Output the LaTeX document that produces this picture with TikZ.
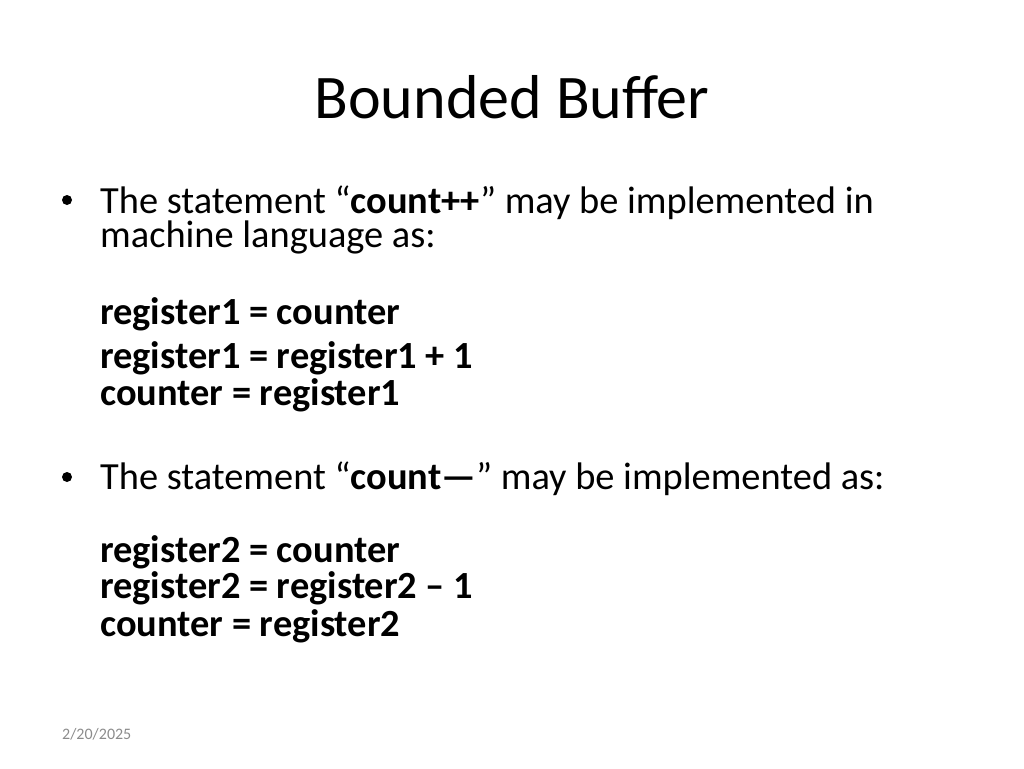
\documentclass[tikz,border=0pt]{standalone}
\usepackage{fontspec}
\setmainfont{Carlito}
\usepackage{xcolor}
\usepackage{tikz}
\definecolor{ink}{HTML}{000000}
\definecolor{muted}{HTML}{8B8B8B}
\tikzset{
  head/.style={anchor=base, inner sep=0pt, text=ink, font=\fontsize{62}{62}\selectfont},
  body/.style={anchor=base west, inner sep=0pt, text=ink, font=\fontsize{38.4}{38.4}\selectfont},
  code/.style={anchor=base west, inner sep=0pt, text=ink, font=\fontsize{38.4}{38.4}\selectfont\bfseries},
  dot/.style={circle, fill=ink, inner sep=0pt, minimum size=10pt},
  foot/.style={anchor=base west, inner sep=0pt, text=muted, font=\fontsize{16}{16}\selectfont},
}
\begin{document}
\begin{tikzpicture}[x=1pt,y=-1pt]
  \useasboundingbox (0,0) rectangle (1024,768);

  % title
  \node[head] (title) at (512,118) {Bounded Buffer};

  % first bullet
  \node[dot] (b1) at (67,200) {};
  \node[body] (l1) at (100,213) {The statement “\textbf{count++}” may be implemented in};
  \node[body] (l2) at (100,247) {machine language as:};
  \node[code] (c1) at (100,324) {register1 = counter};
  \node[code] (c2) at (100,368) {register1 = register1 + 1};
  \node[code] (c3) at (100,405) {counter = register1};

  % second bullet
  \node[dot] (b2) at (67,477) {};
  \node[body] (l3) at (100,489) {The statement “\textbf{count—}” may be implemented as:};
  \node[code] (c4) at (100,562) {register2 = counter};
  \node[code] (c5) at (100,598) {register2 = register2 – 1};
  \node[code] (c6) at (100,636) {counter = register2};

  % date
  \node[foot] (date) at (62,739) {2/20/2025};
\end{tikzpicture}
\end{document}
